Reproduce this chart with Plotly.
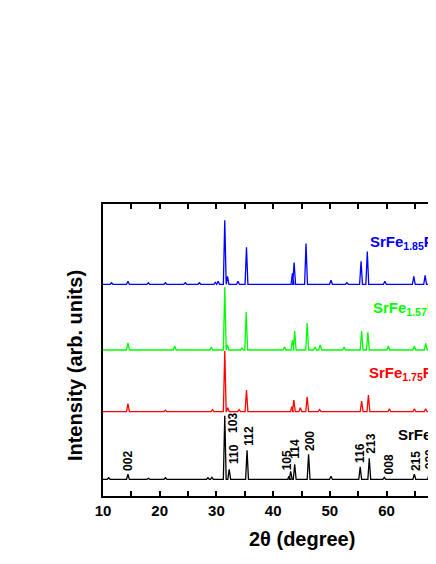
"""Stacked XRD patterns of substituted SrFe2 samples with hkl labels."""

import plotly.graph_objects as go

# peak positions (2theta, degree) and heights (arb. units)
blue_pos = [11.5, 14.4, 18.0, 21.0, 24.5, 27.0, 29.8, 30.3, 31.47, 31.95, 33.8, 35.3,
            43.4, 43.7, 45.8, 50.2, 53.0, 55.5, 56.6, 59.7, 64.8, 66.8, 72.5, 75.0]
blue_int = [1.5, 3, 1.5, 1.5, 1.5, 1.5, 2, 3, 64, 8, 3, 37,
            11, 21.7, 40.7, 4, 1.5, 23, 32.7, 3, 8, 9, 3, 4]

green_pos = [14.4, 22.65, 29.1, 31.47, 31.95, 34.5, 35.25, 42.0, 43.4, 43.8, 46.0,
             47.4, 48.3, 52.5, 55.6, 56.7, 60.3, 64.9, 66.9, 72.5, 75.0]
green_int = [7, 4, 3, 63, 5, 2, 38, 3, 10, 19, 27,
             3, 5, 3, 19, 17.7, 4, 4, 6.7, 3, 3]

red_pos = [14.4, 21.0, 29.3, 31.47, 32.0, 34.0, 35.3, 43.3, 43.65, 44.8, 46.0,
           48.2, 55.6, 56.8, 60.5, 64.9, 66.9, 72.5, 75.0]
red_int = [8, 1.5, 2, 61, 4, 2, 21.7, 5, 11.7, 4, 15,
           2, 10.7, 16.7, 3, 3, 3, 2, 2]

black_pos = [11.0, 14.4, 18.0, 21.0, 28.5, 29.2, 31.47, 32.25, 35.4, 42.8, 43.1, 43.8,
             46.25, 50.2, 55.35, 56.95, 59.6, 64.9, 67.5, 72.5, 75.0]
black_int = [1.5, 5, 1, 1.5, 1.5, 2, 63.6, 10, 29, 3, 8, 15,
             25, 3, 12.6, 21, 2, 5, 6, 3, 3]

# hkl labels of the reference pattern: label, 2theta, height of label foot
hkl_text = ["002", "103", "110", "112", "105", "114", "200", "116", "213", "008", "215", "220"]
hkl_pos = [14.4, 32.9, 33.1, 35.7, 42.5, 43.8, 46.5, 55.3, 57.2, 60.5, 65.2, 67.7]
hkl_foot = [6.3, 44.3, 13.3, 31.3, 7.3, 18.3, 26.3, 14.3, 23.3, 3.3, 6.3, 8.3]

names = [
    "SrFe<sub>1.85</sub>Pd<sub>0.15</sub>O<sub>4</sub>",
    "SrFe<sub>1.57</sub>In<sub>0.43</sub>O<sub>4</sub>",
    "SrFe<sub>1.75</sub>Ru<sub>0.25</sub>O<sub>4</sub>",
    "SrFe<sub>2</sub>O<sub>4</sub>",
]
colors = ["#0000ff", "#00ff00", "#ff0000", "#000000"]
offsets = [211.7, 146, 84.3, 16.7]
name_x = [56.65, 57.2, 56.5, 61.6]
name_y = [254, 188, 123, 61]

FONT = "Arial, Liberation Sans, sans-serif"
HALF = 0.25  # half width of each drawn peak


def pattern(pos, inten, base):
    xs, ys = [10.0], [base]
    for p, h in zip(pos, inten):
        xs += [p - HALF, p, p + HALF]
        ys += [base, base + h, base]
    xs.append(80.0)
    ys.append(base)
    return xs, ys


fig = go.Figure()
series = [(blue_pos, blue_int), (green_pos, green_int), (red_pos, red_int), (black_pos, black_int)]
for (pos, inten), col, off in zip(series, colors, offsets):
    xs, ys = pattern(pos, inten, off)
    fig.add_trace(go.Scatter(x=xs, y=ys, mode="lines", line=dict(color=col, width=1.3),
                             showlegend=False, hoverinfo="skip"))

for txt, col, x, y in zip(names, colors, name_x, name_y):
    fig.add_annotation(x=x, y=y, text=f"<b>{txt}</b>", showarrow=False, xanchor="left",
                       yanchor="middle", font=dict(family=FONT, size=15, color=col))

for txt, x, foot in zip(hkl_text, hkl_pos, hkl_foot):
    fig.add_annotation(x=x, y=offsets[3] + foot, text=f"<b>{txt}</b>", showarrow=False,
                       textangle=-90, xanchor="center", yanchor="bottom",
                       font=dict(family=FONT, size=12, color="black"))

fig.add_annotation(x=-0.0705, y=0.445, xref="paper", yref="paper", text="<b>Intensity (arb. units)</b>",
                   showarrow=False, textangle=-90, xanchor="center", yanchor="middle",
                   font=dict(family=FONT, size=20, color="black"))
fig.add_annotation(x=0.5, y=-0.147, xref="paper", yref="paper", text="<b>2θ (degree)</b>",
                   showarrow=False, xanchor="center", yanchor="middle",
                   font=dict(family=FONT, size=20, color="black"))

fig.update_xaxes(range=[10, 80], dtick=10, ticks="inside", ticklen=5, tickwidth=1.5,
                 tickcolor="black", showline=True, linecolor="black", linewidth=1.5,
                 mirror="allticks", showgrid=False, zeroline=False,
                 tickfont=dict(family=FONT, size=15, color="black", weight="bold"),
                 minor=dict(dtick=5, ticks="inside", ticklen=5, tickwidth=1.5, tickcolor="black"))
fig.update_yaxes(range=[0, 292], showticklabels=False, ticks="", showline=True,
                 linecolor="black", linewidth=1.5, mirror=True, showgrid=False, zeroline=False)

# page body adds 8 px at left and top, so margins are trimmed by that amount
fig.update_layout(width=540, height=556, margin=dict(l=95, r=48, t=196, b=68),
                  plot_bgcolor="white", paper_bgcolor="white")

fig.write_html("out.html")
